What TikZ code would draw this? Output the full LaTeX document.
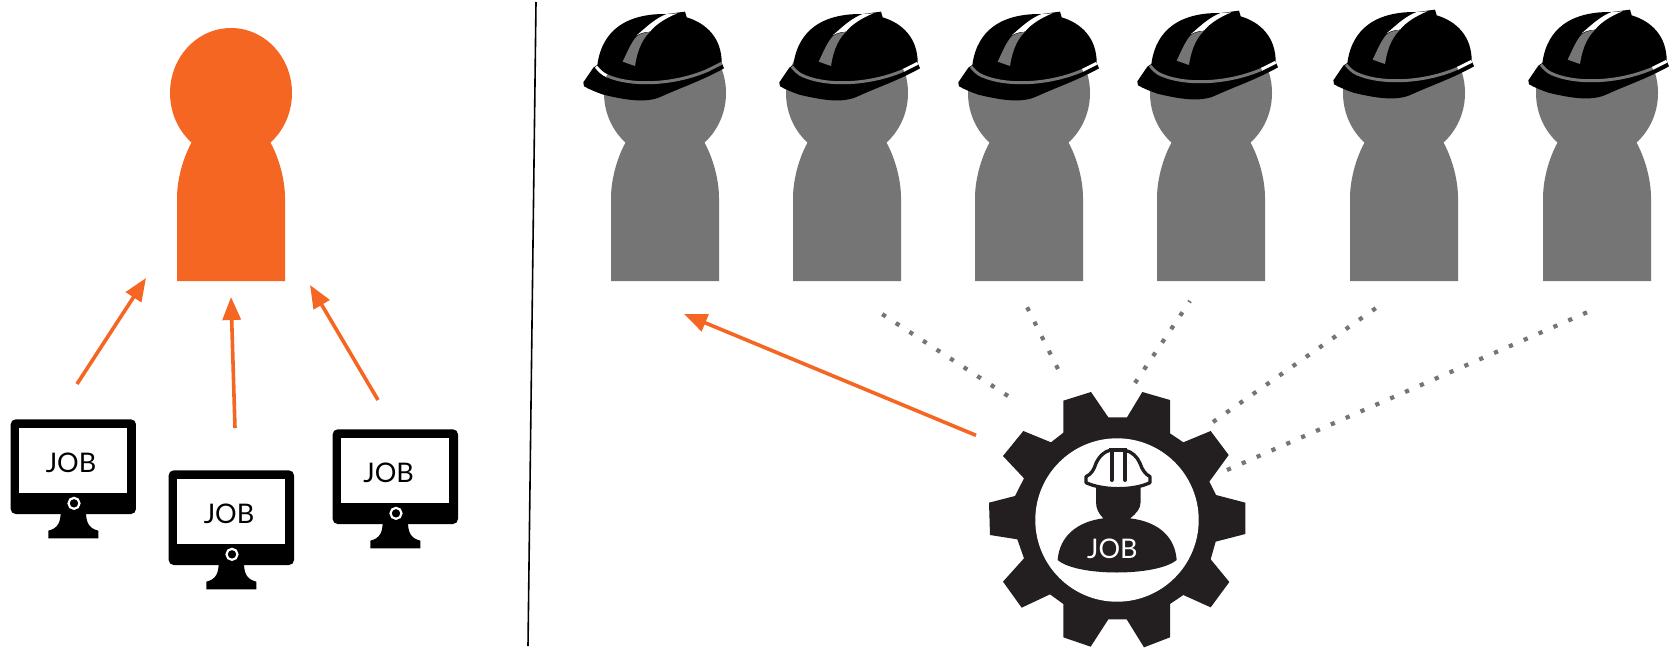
\documentclass[tikz,border=0pt]{standalone}
\usepackage{fontspec}
\setmainfont{Lato}
\usetikzlibrary{arrows.meta}
\definecolor{orangeC}{HTML}{F56623}
\definecolor{grayC}{HTML}{757575}
\definecolor{gearC}{HTML}{231F20}
\tikzset{
  x=1pt,y=-1pt,
  orangearrow/.style={draw=orangeC,line width=3.6pt,-{Triangle[length=23pt,width=18pt,fill=orangeC]}},
  dotline/.style={draw=grayC,line width=4.2pt,dash pattern=on 4.2pt off 12pt},
  jobtext/.style={font=\fontsize{27}{27}\selectfont,inner sep=0pt},
  zoomunits/.style={x=0.33333pt,y=-0.33333pt},
}
\newcommand{\personshape}[3]{%
  \begin{scope}[shift={(#1,#2)}]
    \fill[#3] (0pt,0pt) ellipse [x radius=61pt,y radius=65pt];
    \fill[#3] (-38,47) .. controls (-47,62) and (-54,85) .. (-54,105) -- (-54,188) -- (54,188) -- (54,105) .. controls (54,85) and (47,62) .. (38,47) -- cycle;
  \end{scope}}
% #1,#2 offset, #3 colour of the band's left end, #4 colour of its right end
\newcommand{\hardhat}[4]{%
  \begin{scope}[shift={(#1+570,#2)},zoomunits]
    \fill[black] (82,195) .. controls (92,118) and (140,40) .. (290,42) -- (345,35) -- (350,52)
      .. controls (410,70) and (455,115) .. (455,188) -- (462,205)
      .. controls (400,240) and (330,264) .. (280,287) .. controls (240,307) and (190,306) .. (100,284)
      .. controls (80,277) and (60,269) .. (42,259) -- (40,247) -- (70,203) -- cycle;
    \fill[white] (200,106) .. controls (225,85) and (255,55) .. (290,42) -- (322,40) .. controls (285,55) and (255,75) .. (240,95) .. controls (225,95) and (210,100) .. (200,106) -- cycle;
    \fill[grayC] (158,185) -- (195,198) .. controls (200,165) and (210,125) .. (240,95) .. controls (215,100) and (200,105) .. (195,115) .. controls (180,135) and (170,160) .. (158,185) -- cycle;
    \draw[#3,line width=3pt] (78,200) .. controls (88,212) and (98,222) .. (112,228);
    \draw[grayC,line width=3pt] (110,227) .. controls (190,262) and (320,252) .. (415,210);
    \draw[#4,line width=3pt] (413,211) -- (455,190);
  \end{scope}}
\begin{document}
\begin{tikzpicture}
\useasboundingbox (0,0) rectangle (1676,648);
\fill[white] (0,0) rectangle (1676,648);
% divider
\coordinate (divtop) at (536,2);
\coordinate (divbot) at (528,646);
\draw[black,line width=1.6pt] (divtop) -- (divbot);
% people
\personshape{231}{93}{orangeC}
\personshape{665}{93}{grayC}
\personshape{847}{93}{grayC}
\personshape{1029}{93}{grayC}
\personshape{1211}{93}{grayC}
\personshape{1404}{93}{grayC}
\personshape{1597}{93}{grayC}
\hardhat{0}{0}{white}{grayC}
\hardhat{196}{0}{grayC}{white}
\hardhat{375}{0}{grayC}{white}
\hardhat{554}{-1}{grayC}{white}
\hardhat{750}{-2}{grayC}{white}
\hardhat{945}{-2}{grayC}{white}
% monitors
\begin{scope}[shift={(0,410)},zoomunits]
  \fill[black,rounded corners=5pt] (32,28) rectangle (408,312);
  \fill[white] (58,55) rectangle (380,250);
  \fill[black] (182,305) .. controls (182,335) and (175,355) .. (145,362) -- (145,385) -- (295,385) -- (295,362) .. controls (265,355) and (258,335) .. (258,305) -- cycle;
  \draw[white,line width=2.2pt] (222,280) circle [radius=5.5pt];
  \node[jobtext] (jobone) at (213,157) {JOB};
\end{scope}
\begin{scope}[shift={(158,461)},zoomunits]
  \fill[black,rounded corners=5pt] (32,28) rectangle (408,312);
  \fill[white] (58,55) rectangle (380,250);
  \fill[black] (182,305) .. controls (182,335) and (175,355) .. (145,362) -- (145,385) -- (295,385) -- (295,362) .. controls (265,355) and (258,335) .. (258,305) -- cycle;
  \draw[white,line width=2.2pt] (222,280) circle [radius=5.5pt];
  \node[jobtext] (jobtwo) at (213,157) {JOB};
\end{scope}
\begin{scope}[shift={(322,420)},zoomunits]
  \fill[black,rounded corners=5pt] (32,28) rectangle (408,312);
  \fill[white] (58,55) rectangle (380,250);
  \fill[black] (182,305) .. controls (182,335) and (175,355) .. (145,362) -- (145,385) -- (295,385) -- (295,362) .. controls (265,355) and (258,335) .. (258,305) -- cycle;
  \draw[white,line width=2.2pt] (222,280) circle [radius=5.5pt];
  \node[jobtext] (jobthree) at (200,157) {JOB};
\end{scope}
% gear
\begin{scope}[shift={(970,380)},zoomunits]
  \fill[gearC] (363,36) -- (415,112) -- (471,112) -- (517,36) -- (600,60) -- (600,160) -- (640,187) -- (722,153) -- (776,225) -- (718,305) -- (738,345) -- (826,368) -- (826,462) -- (737,485) -- (722,538) -- (778,606) -- (722,682) -- (640,645) -- (600,672) -- (600,772) -- (522,802) -- (470,718) -- (415,718) -- (362,800) -- (280,772) -- (280,672) -- (240,643) -- (155,683) -- (99,605) -- (162,535) -- (142,478) -- (60,465) -- (57,368) -- (135,348) -- (162,295) -- (99,228) -- (160,153) -- (243,187) -- (280,158) -- (280,62) -- cycle;
  \fill[white] (441,420) circle [radius=81.7pt];
  % worker body
  \fill[gearC] (263,540) .. controls (268,470) and (320,425) .. (400,415) .. controls (385,400) and (378,385) .. (378,365) -- (378,320) -- (512,320) -- (512,365) .. controls (512,385) and (500,400) .. (480,415) .. controls (565,425) and (615,470) .. (620,540) .. controls (560,590) and (320,590) .. (263,540) -- cycle;
  % worker helmet
  \draw[gearC,line width=3.3pt,fill=white,line join=round] (348,290) .. controls (365,282) and (372,268) .. (378,250) .. controls (388,228) and (405,213) .. (420,211) -- (466,211) .. controls (485,215) and (502,230) .. (510,250) .. controls (516,268) and (525,282) .. (540,290) -- (540,308) .. controls (490,332) and (400,332) .. (348,308) -- cycle;
  \draw[gearC,line width=4pt,line cap=round] (425,212) -- (425,300);
  \draw[gearC,line width=4pt,line cap=round] (465,212) -- (465,300);
  \fill[gearC] (417,204) rectangle (470,216);
  \node[jobtext,text=white] (jobgear) at (427,505) {JOB};
  \coordinate (gearleft) at (18,166);
\end{scope}
% orange arrows
\coordinate (aonestart) at (77,384);
\coordinate (aoneend) at (146,278);
\coordinate (atwostart) at (235,428);
\coordinate (atwoend) at (231,297);
\coordinate (athreestart) at (378,400);
\coordinate (athreeend) at (310,285);
\coordinate (abigend) at (684,314);
\draw[orangearrow] (aonestart) -- (aoneend);
\draw[orangearrow] (atwostart) -- (atwoend);
\draw[orangearrow] (athreestart) -- (athreeend);
\draw[orangearrow] (gearleft) -- (abigend);
% dotted lines
\coordinate (dastart) at (1008,396);\coordinate (daend) at (882,314);
\coordinate (dbstart) at (1058,369);\coordinate (dbend) at (1026,305);
\coordinate (dcstart) at (1135,383);\coordinate (dcend) at (1190,301);
\coordinate (ddstart) at (1213,422);\coordinate (ddend) at (1376,308);
\coordinate (destart) at (1227,470);\coordinate (deend) at (1590,311);
\draw[dotline] (dastart) -- (daend);
\draw[dotline] (dbstart) -- (dbend);
\draw[dotline] (dcstart) -- (dcend);
\draw[dotline] (ddstart) -- (ddend);
\draw[dotline] (destart) -- (deend);
\end{tikzpicture}
\end{document}
